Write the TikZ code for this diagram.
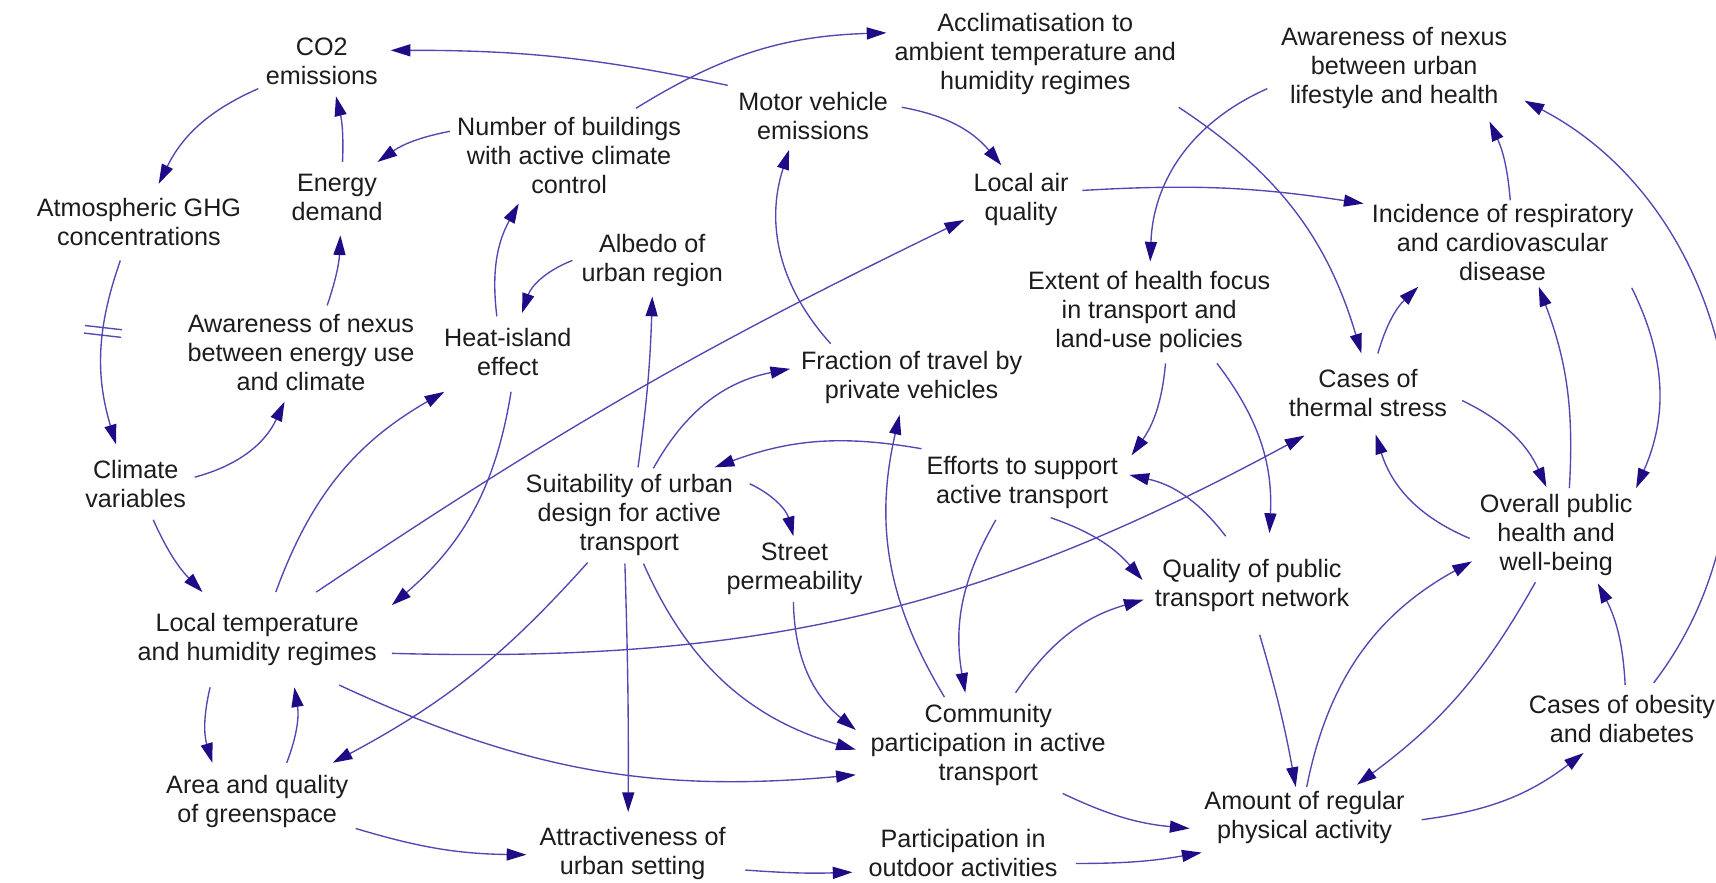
\documentclass[tikz,border=0pt]{standalone}
\usepackage{fontspec}
\setmainfont{Liberation Sans}
\usetikzlibrary{arrows.meta,calc,decorations.markings}
\definecolor{linec}{RGB}{82,72,178}
\definecolor{headc}{RGB}{30,12,135}
\definecolor{textc}{RGB}{28,28,28}
\newcommand\cnx[5]{\draw[arr] ($(#1)+(#2)$) to[#5] ($(#3)+(#4)$);}
\begin{document}
\begin{tikzpicture}[x=1pt,y=1pt,
  lbl/.style={align=center,font=\fontsize{23}{26.5}\selectfont,inner sep=0pt,text=textc},
  arr/.style={draw=linec,line width=1.25pt,-{Triangle[length=18pt,width=11pt,color=headc]}},
  delaymark/.style={postaction={decorate},decoration={markings,mark=at position 0.39 with {\draw[-,linec,line width=1.25pt] (-3.5pt,-17pt)--(-3.5pt,17pt) (3.5pt,-17pt)--(3.5pt,17pt);}}}
]
\useasboundingbox (0,0) rectangle (1568,-806);
\node[lbl] (co2) at (294,-56) {CO2\\emissions};
\node[lbl] (energy) at (308,-180) {Energy\\demand};
\node[lbl] (ghg) at (127,-203) {Atmospheric GHG\\concentrations};
\node[lbl] (nbuild) at (520,-142) {Number of buildings\\with active climate\\control};
\node[lbl] (mve) at (743,-106) {Motor vehicle\\emissions};
\node[lbl] (accl) at (946,-49) {Acclimatisation to\\ambient temperature and\\humidity regimes};
\node[lbl] (awlife) at (1274,-62) {Awareness of nexus\\between urban\\lifestyle and health};
\node[lbl] (lair) at (933,-182) {Local air\\quality};
\node[lbl] (incid) at (1373,-222) {Incidence of respiratory\\and cardiovascular\\disease};
\node[lbl] (albedo) at (596,-238) {Albedo of\\urban region};
\node[lbl] (heat) at (464,-322) {Heat-island\\effect};
\node[lbl] (awen) at (275,-322) {Awareness of nexus\\between energy use\\and climate};
\node[lbl] (extent) at (1050,-285) {Extent of health focus\\in transport and\\land-use policies};
\node[lbl] (frac) at (833,-345) {Fraction of travel by\\private vehicles};
\node[lbl] (thermal) at (1250,-359) {Cases of\\thermal stress};
\node[lbl] (climate) at (124,-442) {Climate\\variables};
\node[lbl] (suit) at (575,-471) {Suitability of urban\\design for active\\transport};
\node[lbl] (efforts) at (934,-441) {Efforts to support\\active transport};
\node[lbl] (street) at (726,-520) {Street\\permeability};
\node[lbl] (overall) at (1422,-489) {Overall public\\health and\\well-being};
\node[lbl] (quality) at (1144,-535) {Quality of public\\transport network};
\node[lbl] (lt) at (235,-584) {Local temperature\\and humidity regimes};
\node[lbl] (obes) at (1482,-657) {Cases of obesity\\and diabetes};
\node[lbl] (comm) at (903,-681) {Community\\participation in active\\transport};
\node[lbl] (green) at (235,-732) {Area and quality\\of greenspace};
\node[lbl] (amount) at (1192,-747) {Amount of regular\\physical activity};
\node[lbl] (attr) at (578,-780) {Attractiveness of\\urban setting};
\node[lbl] (outdoor) at (880,-779) {Participation in\\outdoor activities};

\cnx{mve}{-78,28}{co2}{63,10}{bend right=6}
\cnx{co2}{-58,-25}{ghg}{18,35}{bend right=20}
\cnx{energy}{5,32}{co2}{13,-32}{bend right=8}
\cnx{nbuild}{-109,22}{energy}{37,32}{bend right=12}
\draw[arr,delaymark] ($(ghg)+(-17,-35)$) to[bend right=18] ($(climate)+(-18,36)$);
\cnx{climate}{54,6}{awen}{-15,-45}{bend right=25}
\cnx{awen}{24,43}{energy}{3,-35}{bend right=8}
\cnx{heat}{-10,33}{nbuild}{-46,-44}{bend left=18}
\cnx{albedo}{-73,0}{heat}{13,36}{bend right=25}
\cnx{nbuild}{61,43}{accl}{-136,19}{bend left=15}
\cnx{mve}{81,8}{lair}{-18,31}{bend left=20}
\cnx{frac}{-74,31}{mve}{-22,-31}{bend left=30}
\cnx{lt}{54,43}{lair}{-52,-19}{bend left=4}
\cnx{lair}{56,8}{incid}{-127,36}{bend left=6}
\cnx{accl}{131,-49}{thermal}{-6,36}{bend left=20}
\cnx{awlife}{-116,-19}{extent}{1,46}{bend right=32}
\cnx{incid}{7,39}{awlife}{87,-49}{bend right=10}
\cnx{obes}{29,33}{awlife}{119,-30}{bend right=50}
\cnx{thermal}{9,36}{incid}{-77,-40}{bend left=15}
\cnx{incid}{118,-41}{overall}{73,43}{bend left=25}
\cnx{overall}{12,43}{incid}{33,-40}{bend right=12}
\cnx{thermal}{86,-7}{overall}{-9,44}{bend left=20}
\cnx{overall}{-79,-3}{thermal}{7,-38}{bend left=25}
\cnx{extent}{15,-47}{efforts}{100,25}{bend left=15}
\cnx{extent}{62,-47}{quality}{16,48}{bend left=20}
\cnx{efforts}{-92,31}{suit}{78,44}{bend right=15}
\cnx{quality}{-24,45}{efforts}{98,7}{bend right=20}
\cnx{efforts}{26,-32}{quality}{-100,5}{bend left=15}
\cnx{efforts}{-24,-34}{comm}{-21,48}{bend right=20}
\cnx{comm}{25,48}{quality}{-99,-13}{bend left=20}
\cnx{comm}{-40,44}{frac}{-11,-34}{bend left=22}
\cnx{suit}{22,43}{frac}{-111,8}{bend left=25}
\cnx{suit}{8,44}{albedo}{0,-33}{bend right=3}
\cnx{suit}{110,29}{street}{-1,30}{bend left=25}
\cnx{suit}{-38,-43}{green}{69,35}{bend left=10}
\cnx{suit}{-4,-44}{attr}{-4,38}{bend left=1}
\cnx{suit}{13,-44}{comm}{-121,-4}{bend right=25}
\cnx{street}{-1,-30}{comm}{-121,14}{bend right=25}
\cnx{lt}{75,-42}{comm}{-121,-27}{bend right=15}
\cnx{lt}{123,-13}{thermal}{-58,-39}{bend right=15}
\cnx{lt}{17,43}{heat}{-58,-36}{bend left=20}
\cnx{heat}{3,-36}{lt}{123,31}{bend left=20}
\cnx{climate}{16,-33}{lt}{-50,43}{bend right=10}
\cnx{lt}{-43,-44}{green}{-41,35}{bend right=15}
\cnx{green}{27,35}{lt}{34,-44}{bend right=15}
\cnx{green}{90,-25}{attr}{-97,-1}{bend right=8}
\cnx{attr}{103,-15}{outdoor}{-101,-18}{bend right=3}
\cnx{outdoor}{103,-10}{amount}{-94,-32}{bend right=5}
\cnx{comm}{68,-44}{amount}{-105,-10}{bend right=10}
\cnx{quality}{7,-45}{amount}{-8,28}{bend left=3}
\cnx{amount}{2,28}{overall}{-77,-24}{bend left=25}
\cnx{overall}{-19,-43}{amount}{48,30}{bend left=12}
\cnx{amount}{107,-2}{obes}{-35,-31}{bend right=15}
\cnx{obes}{3,31}{overall}{38,-44}{bend right=12}
\end{tikzpicture}
\end{document}
